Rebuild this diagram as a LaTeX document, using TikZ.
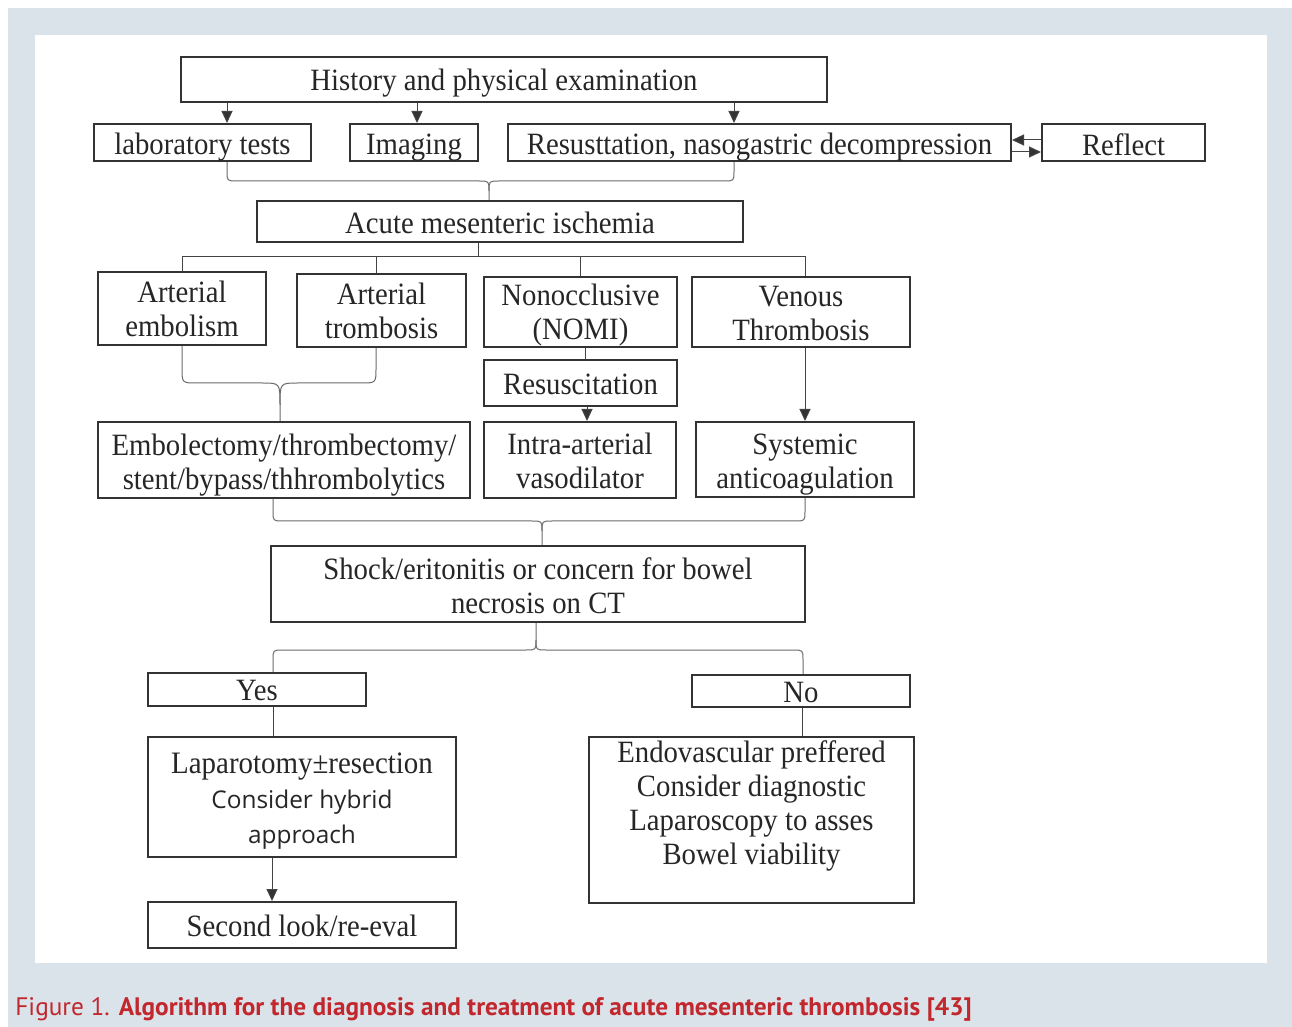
\documentclass[tikz,border=0pt]{standalone}
\usepackage{fontspec}
\setmainfont[FakeStretch=0.927]{Liberation Serif}
\newfontfamily\osans{Open Sans}
\newfontfamily\capfont{PT Sans}
\usetikzlibrary{arrows.meta}
\definecolor{bgc}{HTML}{DAE3E9}
\definecolor{boxc}{HTML}{333333}
\definecolor{txtc}{HTML}{262626}
\definecolor{linec}{HTML}{444444}
\definecolor{brcc}{HTML}{6A6A6A}
\definecolor{capc}{HTML}{C1272D}
% lower a single line of text without changing the node's size
\newcommand\dn[2]{\raisebox{-#1}[\height][\depth]{#2}}
% lower a block of centred lines without changing the node's size
\newcommand\dnb[2]{\raisebox{-#1}[\height][\depth]{\begin{tabular}{@{}c@{}}#2\end{tabular}}}
\begin{document}
\begin{tikzpicture}[x=0.5pt,y=-0.5pt,
  box/.style={draw=boxc, line width=1pt, fill=white, inner sep=0pt, text=txtc,
    font=\fontsize{15.5}{17}\selectfont, align=center},
  conn/.style={draw=linec, line width=0.5pt},
  arr/.style={conn, -{Triangle[length=6pt,width=5.5pt,fill=boxc]}},
  brc/.style={draw=brcc, line width=0.5pt},
]
\useasboundingbox (0,0) rectangle (1292,1027);
\fill[bgc] (8,8) rectangle (1292,1027);
\fill[white] (35,35) rectangle (1267,963);

% nodes
\node[box, minimum width=323pt, minimum height=22.5pt] (hist) at (504,79.5) {\dn{2pt}{History and physical examination}};
\node[box, minimum width=108.5pt, minimum height=18.5pt] (lab) at (202.5,142.5) {\dn{2.5pt}{laboratory tests}};
\node[box, minimum width=64pt, minimum height=18.5pt] (img) at (414,142.5) {\dn{2.5pt}{Imaging}};
\node[box, minimum width=251.5pt, minimum height=18.5pt] (res) at (759.5,142.5) {\dn{2.5pt}{Resusttation, nasogastric decompression}};
\node[box, minimum width=81.5pt, minimum height=18.5pt] (refl) at (1123.5,142.5) {\dn{1pt}{Reflect}};
\node[box, minimum width=243pt, minimum height=20.5pt] (ami) at (500,221.5) {\dn{0.5pt}{Acute mesenteric ischemia}};
\node[box, minimum width=84pt, minimum height=36.5pt] (ae) at (182,308.5) {Arterial\\embolism};
\node[box, minimum width=84.5pt, minimum height=36.5pt] (at) at (381.5,310.5) {Arterial\\trombosis};
\node[box, minimum width=96.5pt, minimum height=35pt] (nomi) at (580.5,312) {\dnb{2pt}{Nonocclusive\\(NOMI)}};
\node[box, minimum width=109pt, minimum height=35pt] (ven) at (801,312) {\dnb{2.5pt}{Venous\\Thrombosis}};
\node[box, minimum width=96.5pt, minimum height=23pt] (resc) at (580.5,383) {\dn{0.5pt}{Resuscitation}};
\node[box, minimum width=186pt, minimum height=38pt] (emb) at (284,460) {\dnb{2.7pt}{Embolectomy/thrombectomy/\\stent/bypass/thhrombolytics}};
\node[box, minimum width=96pt, minimum height=38pt] (iav) at (580,460) {\dnb{2.45pt}{Intra-arterial\\vasodilator}};
\node[box, minimum width=109pt, minimum height=37.5pt] (sys) at (805,459.5) {\dnb{2.5pt}{Systemic\\anticoagulation}};
\node[box, minimum width=267pt, minimum height=38pt] (shock) at (538,584) {\dnb{2.95pt}{Shock/eritonitis or concern for bowel\\necrosis on CT}};
\node[box, minimum width=109pt, minimum height=16.5pt] (yes) at (257,689.5) {\dn{0.5pt}{Yes}};
\node[box, minimum width=109pt, minimum height=16pt] (no) at (801,691) {\dn{1pt}{No}};
\node[box, minimum width=154pt, minimum height=60pt,
  label={[anchor=center, yshift=-2pt, align=center, text=txtc, font=\fontsize{15.6}{17.5}\selectfont]center:Laparotomy±resection\\{\osans\fontsize{12.2}{17.5}\selectfont Consider hybrid}\\{\osans\fontsize{12.2}{17.5}\selectfont approach}}]
  (lap) at (302,797) {};
\node[box, minimum width=154pt, minimum height=23pt] (sec) at (302,925) {\dn{0.5pt}{Second look/re-eval}};
\node[box, minimum width=162.5pt, minimum height=83pt,
  label={[anchor=north, yshift=1.2pt, align=center, text=txtc, font=\fontsize{15.5}{17}\selectfont]north:Endovascular preffered\\Consider diagnostic\\Laparoscopy to asses\\Bowel viability}]
  (endo) at (751.5,820) {};

% History -> three boxes
\draw[arr] (hist.south -| 227,0) -- (lab.north -| 227,0);
\draw[arr] (hist.south -| 417,0) -- (img.north -| 417,0);
\draw[arr] (hist.south -| 734,0) -- (res.north -| 734,0);
% Reflect <-> Resuscitation
\draw[arr] (refl.west |- 0,140) -- (res.east |- 0,140);
\draw[arr] (res.east |- 0,152) -- (refl.west |- 0,152);

% brace 1
\draw[brc] (lab.south -| 227,0) -- (227,171) .. controls (227,181) .. (237,181) -- (479,181)
  .. controls (489,181) .. (489,191) -- (ami.north -| 489,0);
\draw[brc] (res.south -| 734,0) -- (734,171) .. controls (734,181) .. (724,181) -- (499,181)
  .. controls (489,181) .. (489,191);

% AMI split
\draw[conn] (ami.south -| 478,0) -- (478,257);
\draw[conn] (ae.north) -- (182,257) -- (805,257) -- (ven.north -| 805,0);
\draw[conn] (376,257) -- (at.north -| 376,0);
\draw[conn] (580,257) -- (nomi.north -| 580,0);

% NOMI -> Resuscitation -> Intra-arterial
\draw[conn] (nomi.south -| 585,0) -- (resc.north -| 585,0);
\draw[arr] (resc.south -| 587,0) -- (iav.north -| 587,0);
% Venous -> Systemic
\draw[arr] (ven.south -| 805,0) -- (sys.north -| 805,0);

% brace 2
\draw[brc] (ae.south -| 182,0) -- (182,368) .. controls (182,383) .. (197,383) -- (262,383)
  .. controls (280,383) .. (280,405) -- (emb.north -| 280,0);
\draw[brc] (at.south -| 376,0) -- (376,368) .. controls (376,383) .. (361,383) -- (298,383)
  .. controls (280,383) .. (280,405);

% brace 3
\draw[brc] (emb.south -| 273,0) -- (273,511) .. controls (273,521) .. (283,521) -- (532,521)
  .. controls (542,521) .. (542,531) -- (shock.north -| 542,0);
\draw[brc] (sys.south -| 805,0) -- (805,511) .. controls (805,521) .. (795,521) -- (552,521)
  .. controls (542,521) .. (542,531);

% brace 4
\draw[brc] (shock.south -| 536,0) -- (536,640) .. controls (536,650) .. (526,650) -- (283,650)
  .. controls (273,650) .. (273,660) -- (yes.north -| 273,0);
\draw[brc] (536,640) .. controls (536,650) .. (546,650) -- (793,650)
  .. controls (803,650) .. (803,660) -- (no.north -| 803,0);

% Yes / No branches
\draw[conn] (yes.south -| 273,0) -- (lap.north -| 273,0);
\draw[arr] (lap.south -| 272,0) -- (sec.north -| 272,0);
\draw[conn] (no.south -| 802,0) -- (endo.north -| 802,0);

% caption
\node[anchor=base west, inner sep=0pt, text=capc, font=\capfont\fontsize{12.65}{14}\selectfont] (cap) at (15,1015)
  {Figure 1. \textbf{Algorithm for the diagnosis and treatment of acute mesenteric thrombosis [43]}};
\end{tikzpicture}
\end{document}
